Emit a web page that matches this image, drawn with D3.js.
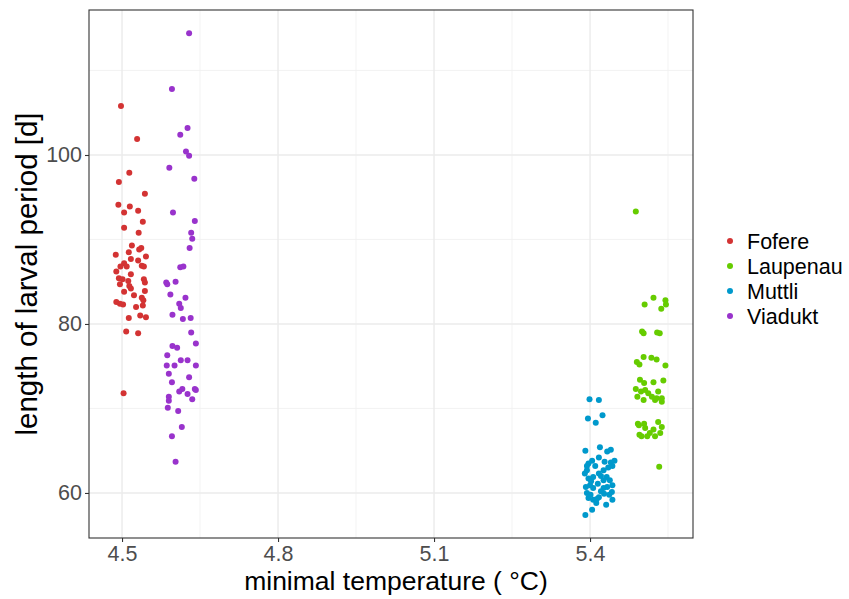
<!DOCTYPE html>
<html>
<head>
<meta charset="utf-8">
<script src="https://cdn.jsdelivr.net/npm/d3@7"></script>
<style>
  body { margin: 0; background: #fff; }
  svg text { font-family: "Liberation Sans", Arial, Helvetica, sans-serif; }
</style>
</head>
<body>
<div id="chart"></div>
<script>
// sites and their colours
const sites = ['Fofere', 'Laupenau', 'Muttli', 'Viadukt'];
const siteColors = ['#D33333', '#66CC00', '#0099CC', '#9933CC'];

// jittered minimal temperature (x) and larval period in days (y)
const fofereTemp = [4.498, 4.529, 4.514, 4.494, 4.544, 4.493, 4.515, 4.504, 4.531, 4.540,
  4.504, 4.532, 4.519, 4.513, 4.533, 4.537, 4.488, 4.546, 4.531, 4.504,
  4.517, 4.497, 4.509, 4.538, 4.542, 4.489, 4.517, 4.494, 4.501, 4.512,
  4.542, 4.544, 4.496, 4.514, 4.517, 4.504, 4.544, 4.523, 4.538, 4.541,
  4.489, 4.496, 4.502, 4.540, 4.527, 4.535, 4.546, 4.513, 4.508, 4.531, 4.503];
const fofereDays = [105.8, 101.9, 97.9, 96.8, 95.4, 94.1, 93.9, 93.2, 93.4, 92.1,
  91.4, 90.8, 89.3, 88.5, 88.8, 89.0, 88.2, 88.0, 87.5, 87.2,
  87.7, 86.8, 86.8, 86.9, 86.8, 86.2, 85.9, 85.4, 85.3, 85.1,
  85.3, 84.9, 84.7, 84.5, 84.2, 83.8, 83.9, 83.4, 83.1, 82.8,
  82.6, 82.4, 82.3, 82.2, 82.0, 81.0, 80.8, 80.7, 79.1, 78.9, 71.8];

const laupenauTemp = [5.488, 5.505, 5.522, 5.545, 5.546, 5.537, 5.500, 5.503, 5.529, 5.534,
  5.503, 5.490, 5.495, 5.518, 5.528, 5.545, 5.496, 5.504, 5.522, 5.541,
  5.488, 5.491, 5.498, 5.503, 5.512, 5.519, 5.525, 5.531, 5.528, 5.538,
  5.538, 5.506, 5.492, 5.494, 5.504, 5.506, 5.495, 5.499, 5.515, 5.510,
  5.522, 5.531, 5.538, 5.535, 5.525, 5.533];
const laupenauDays = [93.3, 82.3, 83.1, 82.8, 82.3, 81.8, 79.1, 78.9, 79.0, 78.9,
  76.1, 75.5, 75.2, 76.0, 75.8, 75.1, 73.4, 73.0, 73.1, 73.3,
  72.3, 71.4, 72.0, 71.0, 71.8, 71.4, 71.0, 72.0, 71.2, 71.2,
  70.8, 72.2, 68.2, 68.0, 68.2, 67.7, 66.9, 66.7, 67.1, 66.7,
  67.5, 68.4, 67.8, 67.1, 66.7, 63.1];

const muttliTemp = [5.399, 5.417, 5.396, 5.411, 5.424, 5.419, 5.433, 5.440, 5.391, 5.404,
  5.417, 5.428, 5.440, 5.447, 5.397, 5.394, 5.410, 5.390, 5.394, 5.426,
  5.435, 5.443, 5.417, 5.406, 5.397, 5.432, 5.426, 5.438, 5.415, 5.443,
  5.392, 5.400, 5.406, 5.426, 5.433, 5.394, 5.401, 5.421, 5.427, 5.442,
  5.397, 5.406, 5.417, 5.437, 5.412, 5.413, 5.443, 5.404, 5.391, 5.402,
  5.421, 5.431];
const muttliDays = [71.1, 71.0, 68.8, 68.3, 69.2, 65.4, 64.9, 65.1, 65.0, 63.8,
  64.2, 63.7, 63.6, 63.8, 63.5, 63.2, 63.2, 62.3, 62.7, 62.7,
  63.0, 63.2, 62.3, 61.9, 61.7, 61.9, 61.5, 61.5, 61.1, 60.9,
  60.7, 60.9, 60.6, 60.6, 60.7, 60.0, 59.8, 60.2, 59.9, 60.1,
  59.4, 59.2, 59.5, 59.8, 58.8, 59.3, 59.2, 58.0, 57.4, 61.4,
  62.0, 58.6];

const viaduktTemp = [4.629, 4.596, 4.626, 4.612, 4.623, 4.629, 4.591, 4.639, 4.598, 4.640,
  4.633, 4.635, 4.630, 4.612, 4.618, 4.585, 4.587, 4.603, 4.593, 4.622,
  4.610, 4.613, 4.597, 4.617, 4.632, 4.633, 4.642, 4.597, 4.606, 4.587,
  4.613, 4.626, 4.586, 4.601, 4.642, 4.590, 4.629, 4.596, 4.610, 4.616,
  4.626, 4.640, 4.642, 4.590, 4.590, 4.635, 4.588, 4.608, 4.615, 4.596, 4.603];
const viaduktDays = [114.4, 107.8, 103.2, 102.4, 100.4, 99.9, 98.5, 97.2, 93.2, 92.2,
  90.8, 90.1, 89.0, 86.7, 86.8, 84.9, 84.7, 85.0, 83.5, 83.1,
  82.4, 81.9, 81.1, 80.6, 80.7, 79.0, 77.7, 77.4, 77.2, 76.3,
  75.7, 75.7, 75.1, 75.1, 75.1, 74.1, 73.7, 73.1, 72.0, 72.3,
  71.7, 72.3, 72.2, 71.4, 70.9, 71.1, 70.1, 69.7, 67.8, 66.7, 63.7];

// axis breaks
const xTicks = [4.5, 4.8, 5.1, 5.4];
const xMinor = [4.65, 4.95, 5.25, 5.55];
const yTicks = [60, 80, 100];
const yMinor = [70, 90, 110];

const temps = [fofereTemp, laupenauTemp, muttliTemp, viaduktTemp];
const days = [fofereDays, laupenauDays, muttliDays, viaduktDays];

const points = [];
sites.forEach((s, k) => {
  temps[k].forEach((t, i) => points.push({ site: s, temp: t, days: days[k][i] }));
});

const width = 849, height = 599;
const margin = { top: 10, right: 156, bottom: 61, left: 89 };

const svg = d3.select('#chart')
  .append('svg')
  .attr('width', width)
  .attr('height', height);

const x = d3.scaleLinear()
  .domain([4.4365, 5.598])
  .range([margin.left, width - margin.right]);

const y = d3.scaleLinear()
  .domain([54.67, 117.16])
  .range([height - margin.bottom, margin.top]);

const color = d3.scaleOrdinal().domain(sites).range(siteColors);

const panel = svg.append('g');

// minor grid
panel.selectAll('.xminor')
  .data(xMinor)
  .enter()
  .append('line')
  .attr('x1', d => x(d)).attr('x2', d => x(d))
  .attr('y1', margin.top).attr('y2', height - margin.bottom)
  .attr('stroke', '#F0F0F0').attr('stroke-width', 0.8);

panel.selectAll('.yminor')
  .data(yMinor)
  .enter()
  .append('line')
  .attr('y1', d => y(d)).attr('y2', d => y(d))
  .attr('x1', margin.left).attr('x2', width - margin.right)
  .attr('stroke', '#F0F0F0').attr('stroke-width', 0.8);

// major grid
panel.selectAll('.xmajor')
  .data(xTicks)
  .enter()
  .append('line')
  .attr('x1', d => x(d)).attr('x2', d => x(d))
  .attr('y1', margin.top).attr('y2', height - margin.bottom)
  .attr('stroke', '#EBEBEB').attr('stroke-width', 1.4);

panel.selectAll('.ymajor')
  .data(yTicks)
  .enter()
  .append('line')
  .attr('y1', d => y(d)).attr('y2', d => y(d))
  .attr('x1', margin.left).attr('x2', width - margin.right)
  .attr('stroke', '#EBEBEB').attr('stroke-width', 1.4);

// points
svg.selectAll('.pt')
  .data(points)
  .enter()
  .append('circle')
  .attr('class', 'pt')
  .attr('cx', d => x(d.temp))
  .attr('cy', d => y(d.days))
  .attr('r', 3)
  .attr('fill', d => color(d.site));

// panel border
svg.append('rect')
  .attr('x', margin.left)
  .attr('y', margin.top)
  .attr('width', width - margin.right - margin.left)
  .attr('height', height - margin.bottom - margin.top)
  .attr('fill', 'none')
  .attr('stroke', '#333333')
  .attr('stroke-width', 1.1);

// axes
const xAxis = svg.append('g')
  .attr('transform', `translate(0,${height - margin.bottom})`)
  .call(d3.axisBottom(x).tickValues(xTicks).tickSize(4).tickPadding(4).tickFormat(d3.format('.1f')));

const yAxis = svg.append('g')
  .attr('transform', `translate(${margin.left},0)`)
  .call(d3.axisLeft(y).tickValues(yTicks).tickSize(4).tickPadding(3));

[xAxis, yAxis].forEach(a => {
  a.select('.domain').remove();
  a.selectAll('line').attr('stroke', '#333333').attr('stroke-width', 1.1);
  a.selectAll('text')
    .attr('fill', '#4D4D4D')
    .style('font-size', '21.5px')
    .style('font-family', '"Liberation Sans", Arial, sans-serif');
});

// axis titles
svg.append('text')
  .attr('x', (margin.left + width - margin.right) / 2 + 5)
  .attr('y', 590)
  .attr('text-anchor', 'middle')
  .style('font-size', '26.5px')
  .text('minimal temperature ( °C)');

svg.append('text')
  .attr('transform', `translate(37,${(margin.top + height - margin.bottom) / 2}) rotate(-90)`)
  .attr('text-anchor', 'middle')
  .style('font-size', '29.5px')
  .text('length of larval period [d]');

// legend
const legend = svg.append('g')
  .attr('transform', 'translate(730,241)');

const item = legend.selectAll('.item')
  .data(sites)
  .enter()
  .append('g')
  .attr('transform', (d, i) => `translate(0,${i * 25})`);

item.append('circle')
  .attr('r', 3)
  .attr('fill', d => color(d));

item.append('text')
  .attr('x', 17)
  .attr('dy', '0.35em')
  .style('font-size', '21.5px')
  .text(d => d);
</script>
</body>
</html>
